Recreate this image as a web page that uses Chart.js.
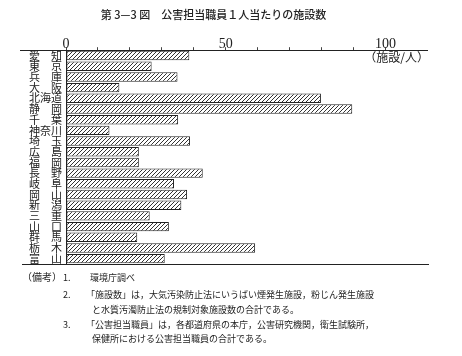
<!DOCTYPE html>
<html><head><meta charset="utf-8">
<script src="https://cdn.jsdelivr.net/npm/chart.js@4"></script>
<style>
body{margin:0;background:#fff;width:462px;height:356px;overflow:hidden;position:relative;font-family:"Noto Sans CJK JP",sans-serif;color:#222}
#c{position:absolute;left:0;top:0}
.n{position:absolute;font-size:9px;white-space:nowrap;line-height:1}
</style></head><body>
<canvas id="c" width="462" height="356"></canvas>
<div class="n" style="left:22px;top:272px;font-size:10px">（備考）</div>
<div class="n" style="left:63px;top:273px">1.</div>
<div class="n" style="left:90px;top:273px">環境庁調べ</div>
<div class="n" style="left:63px;top:290px">2.</div>
<div class="n" style="left:86px;top:290px">「施設数」は，大気汚染防止法にいうばい煙発生施設，粉じん発生施設</div>
<div class="n" style="left:92px;top:305px">と水質汚濁防止法の規制対象施設数の合計である。</div>
<div class="n" style="left:63px;top:320px">3.</div>
<div class="n" style="left:86px;top:320px">「公害担当職員」は，各都道府県の本庁，公害研究機関，衛生試験所，</div>
<div class="n" style="left:92px;top:334px">保健所における公害担当職員の合計である。</div>
<script>
const TITLE = "第 3—3 図　公害担当職員１人当たりの施設数";
const UNIT = "（施設/人）";
const prefectures = ["愛知","東京","兵庫","大阪","北海道","静岡","千葉","神奈川","埼玉","広島","福岡","長野","岐阜","岡山","新潟","三重","山口","群馬","栃木","富山"];
const facilitiesPerStaff = [38.6,26.8,34.9,16.7,79.8,89.6,35.1,13.6,38.8,22.8,22.8,42.8,33.8,37.9,36.1,26.2,32.2,22.3,59.2,30.9];
const tickValues = [0,10,20,30,40,50,60,70,80,90,100];
const labeledTicks = [0,50,100];

function hatch(){
  const p=document.createElement('canvas'); p.width=4; p.height=4;
  const g=p.getContext('2d');
  g.fillStyle='#fff'; g.fillRect(0,0,4,4);
  g.strokeStyle='#333'; g.lineWidth=1;
  g.beginPath(); g.moveTo(-1,5); g.lineTo(5,-1); g.stroke();
  return document.getElementById('c').getContext('2d').createPattern(p,'repeat');
}
function pad(s){ return s.length===2 ? s[0]+'　'+s[1] : s; }

const deco = {id:'deco', afterDraw(chart){
  const {ctx, chartArea:a} = chart;
  ctx.save(); ctx.strokeStyle='#222'; ctx.lineWidth=1;
  ctx.beginPath();
  ctx.moveTo(20, Math.round(a.top)+0.5); ctx.lineTo(a.right, Math.round(a.top)+0.5);
  ctx.moveTo(22, Math.round(a.bottom)+0.5); ctx.lineTo(a.right+2, Math.round(a.bottom)+0.5);
  ctx.stroke();
  ctx.fillStyle='#222'; ctx.font='12px "Noto Sans CJK JP"'; ctx.textAlign='right'; ctx.textBaseline='middle';
  ctx.fillText(UNIT, a.right+2, a.top+7);
  ctx.restore();
}};

new Chart(document.getElementById('c'), {
  type:'bar',
  data:{labels:prefectures, datasets:[{data:facilitiesPerStaff, backgroundColor:hatch(), borderColor:'#222', borderWidth:1, borderSkipped:false, barPercentage:0.88, categoryPercentage:1}]},
  options:{
    indexAxis:'y', responsive:false, animation:false,
    layout:{padding:{left:0,right:35,top:0,bottom:92}},
    plugins:{legend:{display:false}, tooltip:{enabled:false},
      title:{display:true, text:TITLE, color:'#222', font:{family:'"Noto Sans CJK JP"', size:11, weight:'500'}, padding:{top:8,bottom:4}}},
    scales:{
      x:{position:'top', min:0, max:113,
        afterBuildTicks(s){ s.ticks = tickValues.map(v=>({value:v})); },
        afterFit(s){ s.height = 25; },
        grid:{display:true, drawOnChartArea:false, drawTicks:true, tickLength:3, color:'#444'},
        border:{display:true, color:'#222'},
        ticks:{autoSkip:false, padding:-6, maxRotation:0, color:'#222', font:{family:'"Liberation Serif"', size:14},
          callback(v){ return labeledTicks.includes(v) ? String(v) : ''; }}
      },
      y:{
        afterFit(s){ s.width = 66; },
        grid:{display:true, drawOnChartArea:false, drawTicks:false},
        border:{display:true, color:'#222'},
        ticks:{autoSkip:false, padding:4, color:'#222', font:{family:'"Noto Sans CJK JP"', size:11},
          callback(v,i){ return pad(prefectures[i]); }}
      }
    }
  },
  plugins:[deco]
});
</script>
</body></html>
